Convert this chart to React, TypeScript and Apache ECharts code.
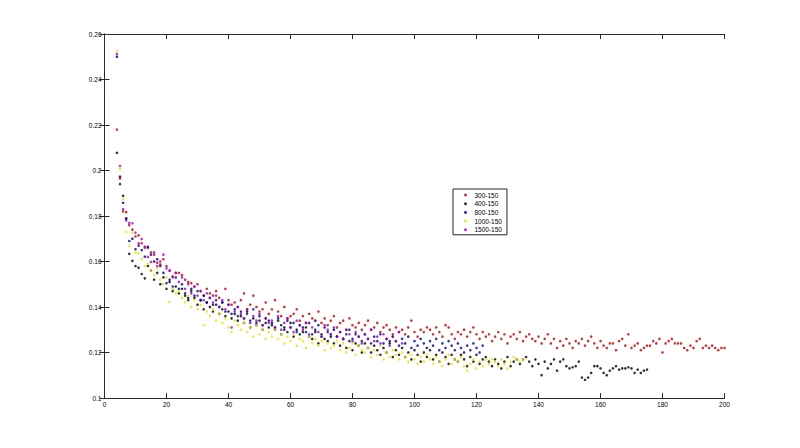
import React, { useEffect, useRef } from "react";
import * as echarts from "echarts";

// x starts at 4 for every series (one point per integer x)
const X_START = 4;

const seriesNames = ["300-150", "400-150", "800-150", "1000-150", "1500-150"];
const seriesColors = ["#c00000", "#000000", "#00008c", "#e6e600", "#9a00cc"];

const red300 = [
  0.218, 0.1965, 0.182, 0.1817, 0.176, 0.174, 0.171, 0.1715, 0.168, 0.1665,
  0.166, 0.164, 0.163, 0.1595, 0.1587, 0.161, 0.158, 0.156, 0.1535, 0.155,
  0.155, 0.154, 0.152, 0.151, 0.1505, 0.149, 0.15, 0.147, 0.145, 0.148,
  0.146, 0.145, 0.147, 0.144, 0.142, 0.148, 0.143, 0.141, 0.142, 0.14,
  0.143, 0.146, 0.139, 0.141, 0.145, 0.14, 0.138, 0.139, 0.142, 0.137,
  0.139, 0.143, 0.138, 0.136, 0.14, 0.135, 0.136, 0.137, 0.139, 0.134,
  0.136, 0.133, 0.137, 0.135, 0.134, 0.138, 0.133, 0.135, 0.132, 0.134,
  0.136, 0.131, 0.133, 0.134, 0.13, 0.135, 0.132, 0.131, 0.133, 0.13,
  0.132, 0.134, 0.13, 0.131, 0.133, 0.129, 0.131, 0.132, 0.13, 0.128,
  0.131, 0.129, 0.13, 0.128, 0.131, 0.134, 0.129, 0.127, 0.13, 0.129,
  0.131, 0.13, 0.128, 0.131, 0.129, 0.127, 0.132, 0.131, 0.128, 0.126,
  0.129, 0.128, 0.13, 0.127, 0.129, 0.131, 0.128, 0.126, 0.129, 0.127,
  0.128, 0.125, 0.127, 0.129, 0.126, 0.128, 0.124, 0.127, 0.128, 0.126,
  0.129, 0.125, 0.127, 0.128, 0.126, 0.125, 0.127, 0.124, 0.126, 0.128,
  0.124, 0.126, 0.122, 0.125, 0.123, 0.126, 0.124, 0.122, 0.125, 0.124,
  0.126, 0.123, 0.125, 0.127, 0.124, 0.122, 0.125, 0.123, 0.122, 0.124,
  0.124, 0.121, 0.125, 0.126, 0.123, 0.128, 0.122, 0.123, 0.124, 0.121,
  0.122, 0.123, 0.123, 0.125, 0.124, 0.126, 0.12, 0.124, 0.125, 0.126,
  0.124, 0.124, 0.124, 0.122, 0.121, 0.123, 0.122, 0.125, 0.126, 0.122,
  0.123, 0.122, 0.123, 0.122, 0.121, 0.122, 0.122,
];

const black400 = [
  0.2078, 0.1973, 0.1889, 0.1788, 0.1634, 0.1603, 0.158, 0.1573, 0.1545, 0.1526,
  0.158, 0.156, 0.152, 0.155, 0.15, 0.153, 0.148, 0.151, 0.147, 0.149,
  0.146, 0.148, 0.145, 0.143, 0.147, 0.144, 0.141, 0.143, 0.139, 0.142,
  0.14, 0.138, 0.141, 0.137, 0.139, 0.136, 0.138, 0.135, 0.137, 0.134,
  0.136, 0.133, 0.138, 0.131, 0.135, 0.132, 0.134, 0.13, 0.133, 0.131,
  0.132, 0.13, 0.134, 0.128, 0.131, 0.129, 0.133, 0.127, 0.13, 0.128,
  0.129, 0.131, 0.127, 0.126, 0.129, 0.124, 0.128, 0.126, 0.125, 0.127,
  0.124, 0.127, 0.123, 0.126, 0.122, 0.125, 0.121, 0.124, 0.123, 0.12,
  0.124, 0.122, 0.12, 0.123, 0.121, 0.119, 0.122, 0.12, 0.124, 0.118,
  0.121, 0.119, 0.122, 0.118, 0.12, 0.117, 0.121, 0.119, 0.116, 0.12,
  0.118, 0.121, 0.117, 0.119, 0.116, 0.12, 0.118, 0.115, 0.119, 0.117,
  0.116, 0.119, 0.117, 0.114, 0.118, 0.116, 0.119, 0.115, 0.117, 0.118,
  0.116, 0.114, 0.117, 0.115, 0.113, 0.116, 0.118, 0.114, 0.116, 0.117,
  0.115, 0.117, 0.118, 0.116, 0.114, 0.117, 0.115, 0.11, 0.116, 0.113,
  0.115, 0.117, 0.112, 0.116, 0.117, 0.114, 0.113, 0.1135, 0.114, 0.116,
  0.109, 0.108, 0.109, 0.111, 0.114, 0.114, 0.113, 0.111, 0.11, 0.112,
  0.113, 0.114, 0.1125, 0.113, 0.113, 0.1135, 0.113, 0.111, 0.1125, 0.111,
  0.112, 0.1125,
];

const blue800 = [
  0.25, 0.194, 0.1858, 0.179, 0.169, 0.17, 0.1654, 0.167, 0.165, 0.1621,
  0.1665, 0.163, 0.16, 0.161, 0.158, 0.155, 0.1505, 0.152, 0.149, 0.153,
  0.148, 0.15, 0.146, 0.144, 0.148, 0.145, 0.147, 0.143, 0.145, 0.142,
  0.144, 0.141, 0.143, 0.14, 0.142, 0.138, 0.141, 0.137, 0.139, 0.136,
  0.138, 0.135, 0.137, 0.134, 0.139, 0.133, 0.136, 0.132, 0.135, 0.134,
  0.133, 0.131, 0.135, 0.132, 0.13, 0.134, 0.131, 0.133, 0.129, 0.132,
  0.131, 0.129, 0.133, 0.128, 0.13, 0.132, 0.127, 0.131, 0.129, 0.128,
  0.13, 0.127, 0.129, 0.126, 0.128, 0.13, 0.126, 0.128, 0.127, 0.125,
  0.128, 0.126, 0.124, 0.127, 0.125, 0.128, 0.124, 0.126, 0.125, 0.127,
  0.125, 0.123, 0.126, 0.124, 0.127, 0.122, 0.125, 0.123, 0.126, 0.124,
  0.122, 0.125, 0.123, 0.126, 0.121, 0.124, 0.122, 0.125, 0.123, 0.121,
  0.124, 0.122, 0.12, 0.123, 0.121, 0.124, 0.122, 0.12, 0.123,
];

const yellow1000 = [
  0.2525, 0.2007, 0.1875, 0.173, 0.1668, 0.1727, 0.164, 0.1636, 0.161, 0.158,
  0.159, 0.156, 0.154, 0.157, 0.152, 0.15, 0.153, 0.1423, 0.148, 0.146,
  0.147, 0.144, 0.142, 0.145, 0.14, 0.143, 0.139, 0.141, 0.132, 0.138,
  0.136, 0.139, 0.134, 0.137, 0.133, 0.135, 0.131, 0.129, 0.134, 0.132,
  0.13, 0.133, 0.129, 0.131, 0.127, 0.132, 0.128, 0.13, 0.126, 0.129,
  0.127, 0.13, 0.126, 0.128, 0.124, 0.127, 0.125, 0.128, 0.123, 0.126,
  0.125, 0.122, 0.127, 0.124, 0.126, 0.123, 0.125, 0.121, 0.124, 0.122,
  0.123, 0.125, 0.121, 0.124, 0.12, 0.122, 0.124, 0.119, 0.123, 0.121,
  0.12, 0.122, 0.118, 0.121, 0.119, 0.123, 0.117, 0.12, 0.118, 0.121,
  0.119, 0.117, 0.12, 0.118, 0.116, 0.119, 0.117, 0.115, 0.118, 0.116,
  0.119, 0.117, 0.115, 0.118, 0.116, 0.114, 0.117, 0.119, 0.115, 0.117,
  0.116, 0.118, 0.114, 0.112, 0.115, 0.117, 0.113, 0.116, 0.114, 0.117,
  0.115, 0.117, 0.116, 0.114, 0.117, 0.115, 0.113, 0.116, 0.118, 0.117,
  0.116, 0.117,
];

const purple1500 = [
  0.2512, 0.202, 0.183, 0.178, 0.177, 0.1768, 0.1727, 0.168, 0.1699, 0.166,
  0.162, 0.1598, 0.164, 0.158, 0.16, 0.163, 0.157, 0.156, 0.153, 0.155,
  0.151, 0.153, 0.148, 0.15, 0.146, 0.149, 0.145, 0.147, 0.143, 0.146,
  0.144, 0.142, 0.145, 0.14, 0.143, 0.139, 0.141, 0.131, 0.138, 0.14,
  0.137, 0.135, 0.139, 0.133, 0.136, 0.134, 0.137, 0.132, 0.135, 0.133,
  0.134, 0.131, 0.136, 0.13, 0.133, 0.135, 0.131, 0.129, 0.134, 0.132,
  0.13, 0.133, 0.128, 0.131, 0.134, 0.129, 0.127, 0.132, 0.13, 0.128,
  0.131, 0.127, 0.129, 0.126, 0.13, 0.128, 0.125, 0.129, 0.127, 0.124,
  0.128, 0.126, 0.13, 0.125, 0.127, 0.124, 0.128, 0.126, 0.123, 0.127,
  0.125, 0.129, 0.124,
];

const allValues = [red300, black400, blue800, yellow1000, purple1500];

const X_MIN = 0;
const X_MAX = 200;
const X_INTERVAL = 20;
const Y_MIN = 0.1;
const Y_MAX = 0.26;
const Y_INTERVAL = 0.02;

const FONT = "'Liberation Sans', Arial, sans-serif";
const AXIS_COLOR = "#2a2a2a";

export default function App() {
  const ref = useRef<HTMLDivElement>(null);

  useEffect(() => {
    if (!ref.current) return;
    const chart = echarts.init(ref.current, undefined, { renderer: "svg" });

    const axisCommon = {
      axisLine: { show: true, lineStyle: { color: AXIS_COLOR, width: 1 } },
      axisTick: { show: true, inside: true, length: 5, lineStyle: { color: AXIS_COLOR } },
      splitLine: { show: false },
    };

    const series = allValues.map((vals, i) => ({
      name: seriesNames[i],
      type: "scatter" as const,
      xAxisIndex: 0,
      yAxisIndex: 0,
      symbol: "circle",
      symbolSize: 2.6,
      itemStyle: { color: seriesColors[i] },
      data: vals.map((v, j) => [X_START + j, v]),
    }));

    chart.setOption({
      animation: false,
      backgroundColor: "#ffffff",
      grid: { left: 104.5, right: 75.5, top: 34, bottom: 50, containLabel: false },
      xAxis: [
        {
          type: "value",
          min: X_MIN,
          max: X_MAX,
          interval: X_INTERVAL,
          position: "bottom",
          ...axisCommon,
          axisLabel: { color: "#000", fontSize: 6.5, fontFamily: FONT, margin: 3 },
        },
        {
          type: "value",
          min: X_MIN,
          max: X_MAX,
          interval: X_INTERVAL,
          position: "top",
          ...axisCommon,
          axisLabel: { show: false },
        },
      ],
      yAxis: [
        {
          type: "value",
          min: Y_MIN,
          max: Y_MAX,
          interval: Y_INTERVAL,
          position: "left",
          ...axisCommon,
          axisLabel: { color: "#000", fontSize: 6.5, fontFamily: FONT, margin: 3 },
        },
        {
          type: "value",
          min: Y_MIN,
          max: Y_MAX,
          interval: Y_INTERVAL,
          position: "right",
          ...axisCommon,
          axisLabel: { show: false },
        },
      ],
      legend: {
        show: true,
        orient: "vertical",
        left: 453,
        top: 189,
        backgroundColor: "#ffffff",
        borderColor: "#222",
        borderWidth: 1,
        borderRadius: 0,
        padding: [2, 5, 1, 11],
        itemWidth: 8,
        itemHeight: 3,
        itemGap: 0.7,
        icon: "circle",
        textStyle: { fontSize: 6.5, fontFamily: FONT, color: "#000", lineHeight: 8 },
        data: seriesNames,
      },
      series,
    });

    return () => {
      chart.dispose();
    };
  }, []);

  return (
    <div
      ref={ref}
      style={{ position: "fixed", left: 0, top: 0, width: 800, height: 448, background: "#fff" }}
    />
  );
}
